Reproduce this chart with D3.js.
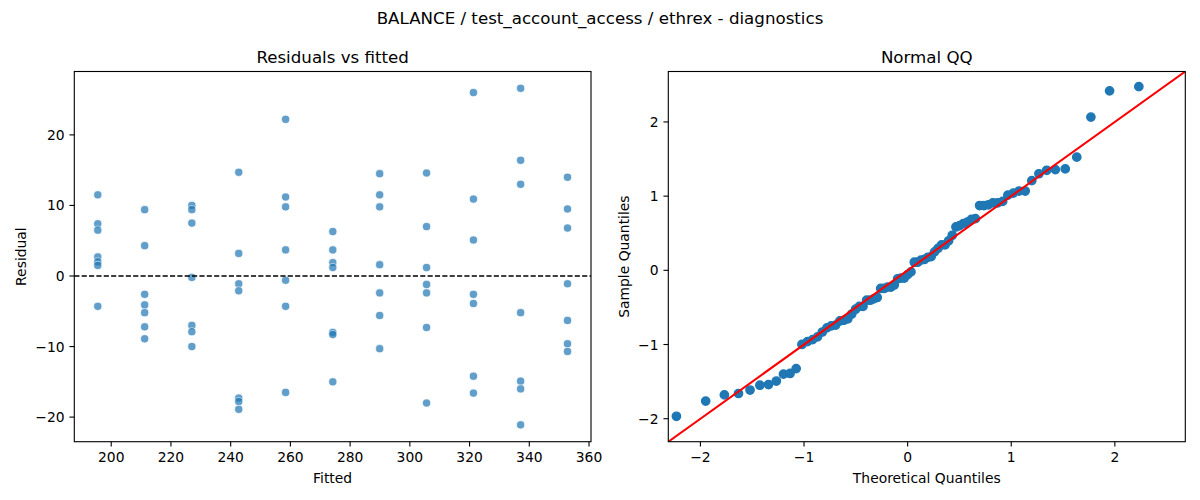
<!DOCTYPE html>
<html>
<head>
<meta charset="utf-8">
<script src="https://cdn.jsdelivr.net/npm/d3@7"></script>
<style>
  body { margin: 0; background: #fff; }
  text { font-family: "DejaVu Sans", sans-serif; fill: #000; }
</style>
</head>
<body>
<svg id="fig"></svg>
<script>
// diagnostics figure: residuals vs fitted + normal QQ

const width = 1200, height = 500;

const figTitle = "BALANCE / test_account_access / ethrex - diagnostics";

// fitted value of each group (x of the residual columns)
const fitted = [195.5, 211.2, 227.0, 242.7, 258.4, 274.2, 289.9, 305.6, 321.3, 337.1, 352.8];

// residuals, one list per fitted value
const residuals = [
  [11.5, 7.4, 6.5, 2.7, 2.0, 1.5, -4.3],
  [9.4, 4.3, -2.6, -4.1, -5.2, -7.2, -8.9],
  [10.0, 9.4, 7.5, -0.2, -7.0, -7.9, -10.0],
  [14.7, 3.2, -1.1, -2.1, -17.3, -17.8, -18.9],
  [22.2, 11.2, 9.8, 3.7, -0.6, -4.3, -16.5],
  [6.3, 3.7, 1.9, 1.2, -8.0, -8.3, -15.0],
  [14.5, 11.5, 9.8, 1.6, -2.4, -5.6, -10.3],
  [14.6, 7.0, 1.2, -1.2, -2.4, -7.3, -18.0],
  [26.0, 10.9, 5.1, -2.6, -3.9, -14.2, -16.6],
  [26.6, 16.4, 13.0, -5.2, -14.9, -16.0, -21.1],
  [14.0, 9.5, 6.8, -1.1, -6.3, -9.6, -10.7]
];

const fittedTicks = [200, 220, 240, 260, 280, 300, 320, 340, 360];
const residTicks = [-20, -10, 0, 10, 20];
const qqTicks = [-2, -1, 0, 1, 2];
const qqLimits = [-2.31, 2.68];   // statsmodels '45' line sets both axes to this

// axes boxes (matplotlib subplot positions)
const axL = {x0: 74.3, x1: 591, y0: 71.5, y1: 441.7};
const axR = {x0: 668.3, x1: 1185.3, y0: 71.5, y1: 441.7};

const tickLen = 4.86, tickPad = 4.86, fsTick = 13.89, fsTitle = 16.67;

// flat point list for the scatter
const points = [];
fitted.forEach((f, i) => residuals[i].forEach(r => points.push({fitted: f, resid: r})));

// QQ: sorted residuals standardised (norm.fit) against normal quantiles i/(n+1)
function normInv(p) {
  const a = [-3.969683028665376e+01, 2.209460984245205e+02, -2.759285104469687e+02, 1.383577518672690e+02, -3.066479806614716e+01, 2.506628277459239e+00];
  const b = [-5.447609879822406e+01, 1.615858368580409e+02, -1.556989798598866e+02, 6.680131188771972e+01, -1.328068155288572e+01];
  const c = [-7.784894002430293e-03, -3.223964580411365e-01, -2.400758277161838e+00, -2.549732539343734e+00, 4.374664141464968e+00, 2.938163982698783e+00];
  const d = [7.784695709041462e-03, 3.224671290700398e-01, 2.445134137142996e+00, 3.754408661907416e+00];
  const pl = 0.02425;
  let q, r;
  if (p < pl) {
    q = Math.sqrt(-2 * Math.log(p));
    return (((((c[0]*q+c[1])*q+c[2])*q+c[3])*q+c[4])*q+c[5]) / ((((d[0]*q+d[1])*q+d[2])*q+d[3])*q+1);
  }
  if (p > 1 - pl) {
    q = Math.sqrt(-2 * Math.log(1 - p));
    return -(((((c[0]*q+c[1])*q+c[2])*q+c[3])*q+c[4])*q+c[5]) / ((((d[0]*q+d[1])*q+d[2])*q+d[3])*q+1);
  }
  q = p - 0.5; r = q * q;
  return (((((a[0]*r+a[1])*r+a[2])*r+a[3])*r+a[4])*r+a[5])*q / (((((b[0]*r+b[1])*r+b[2])*r+b[3])*r+b[4])*r+1);
}

const allResid = points.map(d => d.resid).sort(d3.ascending);
const n = allResid.length;
const mu = d3.mean(allResid);
const sd = Math.sqrt(d3.mean(allResid, v => (v - mu) ** 2));
const qq = allResid.map((v, i) => ({theo: normInv((i + 1) / (n + 1)), sample: (v - mu) / sd}));

// matplotlib style 5% margins
function padded(ext) {
  const m = (ext[1] - ext[0]) * 0.05;
  return [ext[0] - m, ext[1] + m];
}

const svg = d3.select("#fig").attr("width", width).attr("height", height);

svg.append("text")
  .attr("x", width / 2).attr("y", 24)
  .attr("text-anchor", "middle")
  .style("font-size", fsTitle + "px")
  .text(figTitle);

function drawAxes(ax, x, y, xTicks, yTicks, opts) {
  const g = svg.append("g");
  const clipId = "clip" + opts.id;
  svg.append("clipPath").attr("id", clipId)
    .append("rect")
    .attr("x", ax.x0).attr("y", ax.y0)
    .attr("width", ax.x1 - ax.x0).attr("height", ax.y1 - ax.y0);

  const plot = g.append("g").attr("clip-path", `url(#${clipId})`);
  opts.marks(plot);

  // spines
  g.append("rect")
    .attr("x", ax.x0).attr("y", ax.y0)
    .attr("width", ax.x1 - ax.x0).attr("height", ax.y1 - ax.y0)
    .attr("fill", "none").attr("stroke", "#000").attr("stroke-width", 1.11);

  const fmt = d3.format("");

  const xt = g.selectAll(".xt").data(xTicks).enter().append("g")
    .attr("transform", d => `translate(${x(d)},${ax.y1})`);
  xt.append("line").attr("y2", tickLen).attr("stroke", "#000").attr("stroke-width", 1.11);
  xt.append("text")
    .attr("y", tickLen + tickPad + 10.6)
    .attr("text-anchor", "middle")
    .style("font-size", fsTick + "px")
    .text(d => fmt(d));

  const yt = g.selectAll(".yt").data(yTicks).enter().append("g")
    .attr("transform", d => `translate(${ax.x0},${y(d)})`);
  yt.append("line").attr("x2", -tickLen).attr("stroke", "#000").attr("stroke-width", 1.11);
  yt.append("text")
    .attr("x", -tickLen - tickPad)
    .attr("dy", "0.36em")
    .attr("text-anchor", "end")
    .style("font-size", fsTick + "px")
    .text(d => fmt(d));

  const cx = (ax.x0 + ax.x1) / 2, cy = (ax.y0 + ax.y1) / 2;
  g.append("text")
    .attr("x", cx).attr("y", ax.y0 - 8.33)
    .attr("text-anchor", "middle")
    .style("font-size", fsTitle + "px")
    .text(opts.title);
  g.append("text")
    .attr("x", cx).attr("y", 483)
    .attr("text-anchor", "middle")
    .style("font-size", fsTick + "px")
    .text(opts.xlabel);
  g.append("text")
    .attr("transform", `translate(${opts.ylabelX},${cy}) rotate(-90)`)
    .attr("text-anchor", "middle")
    .style("font-size", fsTick + "px")
    .text(opts.ylabel);
}

// left: residuals vs fitted
const xL = d3.scaleLinear().domain(padded(d3.extent(fitted))).range([axL.x0, axL.x1]);
const yL = d3.scaleLinear().domain(padded(d3.extent(points, d => d.resid))).range([axL.y1, axL.y0]);

drawAxes(axL, xL, yL, fittedTicks, residTicks, {
  id: "L",
  title: "Residuals vs fitted",
  xlabel: "Fitted",
  ylabel: "Residual",
  ylabelX: 26.4,
  marks: plot => {
    plot.selectAll(".pt").data(points).enter().append("circle")
      .attr("cx", d => xL(d.fitted))
      .attr("cy", d => yL(d.resid))
      .attr("r", 4.1)
      .attr("fill", "#1f77b4")
      .attr("stroke", "#fff")
      .attr("stroke-width", 0.7)
      .attr("opacity", 0.7);
    plot.append("line")
      .attr("x1", axL.x0).attr("x2", axL.x1)
      .attr("y1", yL(0)).attr("y2", yL(0))
      .attr("stroke", "#000").attr("stroke-width", 1.39)
      .attr("stroke-dasharray", "5.14,2.22");
  }
});

// right: normal QQ
const xR = d3.scaleLinear().domain(qqLimits).range([axR.x0, axR.x1]);
const yR = d3.scaleLinear().domain(qqLimits).range([axR.y1, axR.y0]);

drawAxes(axR, xR, yR, qqTicks, qqTicks, {
  id: "R",
  title: "Normal QQ",
  xlabel: "Theoretical Quantiles",
  ylabel: "Sample Quantiles",
  ylabelX: 629.2,
  marks: plot => {
    plot.selectAll(".qq").data(qq).enter().append("circle")
      .attr("cx", d => xR(d.theo))
      .attr("cy", d => yR(d.sample))
      .attr("r", 4.17)
      .attr("fill", "#1f77b4")
      .attr("stroke", "#1f77b4")
      .attr("stroke-width", 1.39);
    plot.append("line")
      .attr("x1", xR(qqLimits[0])).attr("y1", yR(qqLimits[0]))
      .attr("x2", xR(qqLimits[1])).attr("y2", yR(qqLimits[1]))
      .attr("stroke", "red").attr("stroke-width", 2.08);
  }
});
</script>
</body>
</html>
